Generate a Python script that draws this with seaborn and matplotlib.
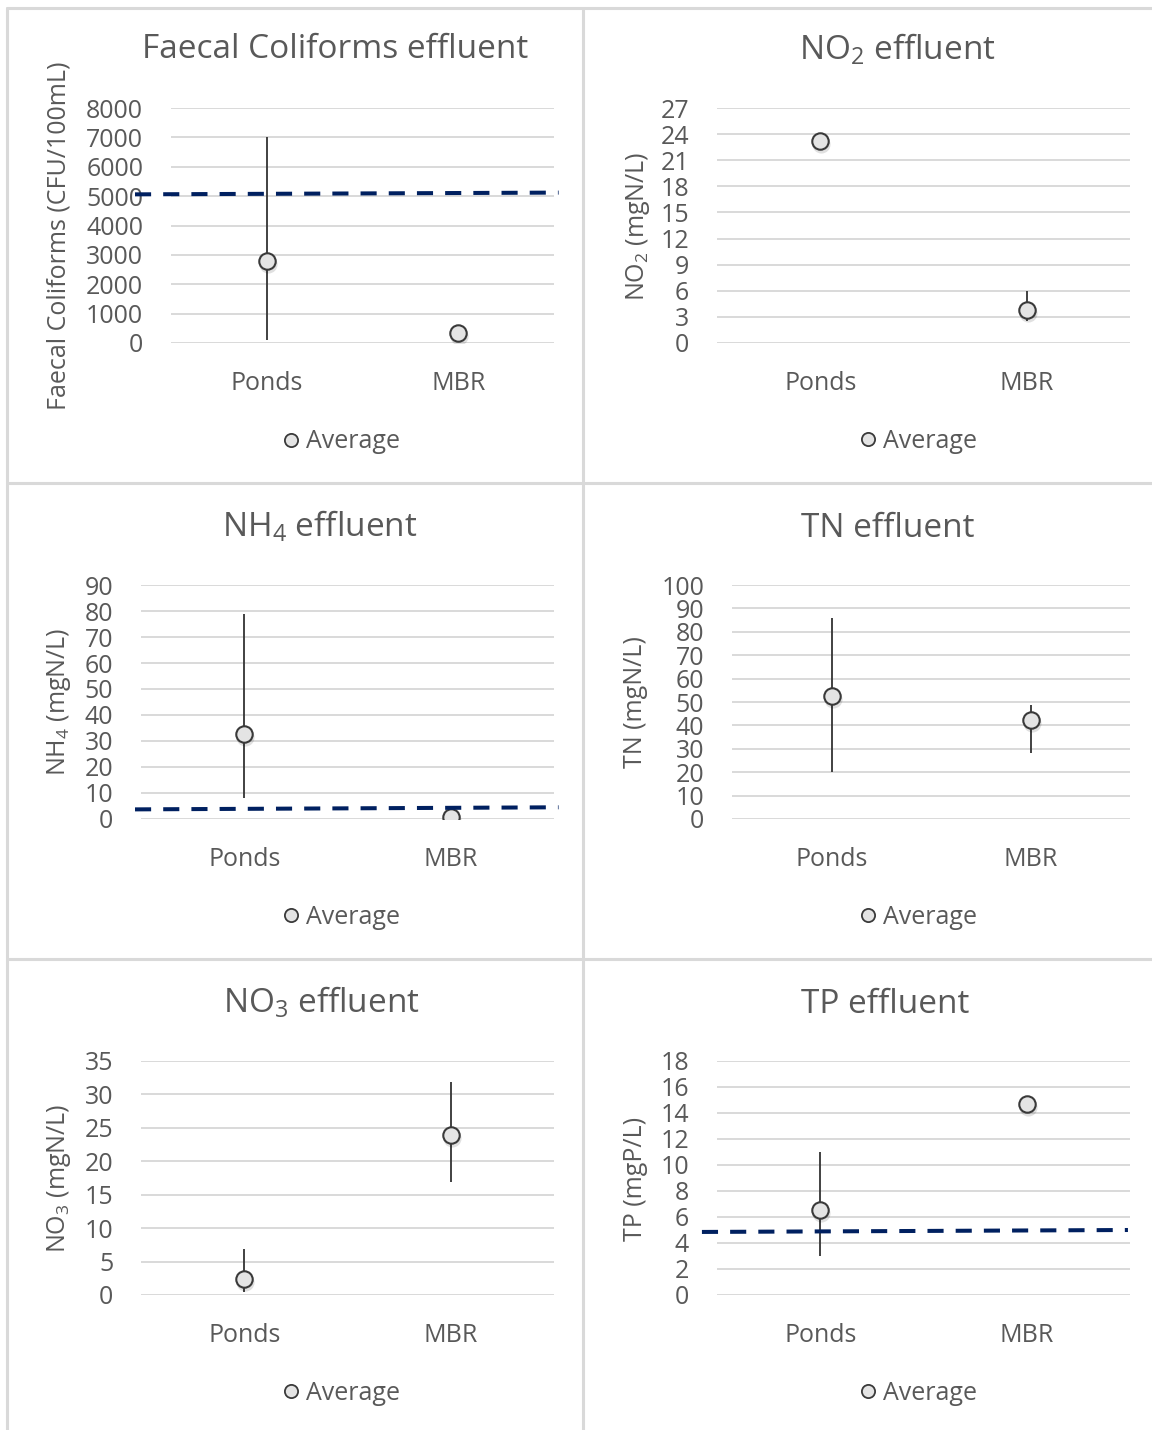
import numpy as np
import pandas as pd
import matplotlib
matplotlib.use("Agg")
import matplotlib.pyplot as plt
import matplotlib.transforms as mtransforms
from matplotlib.lines import Line2D
import seaborn as sns

# ---------------- data ----------------
categories = ["Ponds", "MBR"]

fc_avg = [2800, 330]
fc_low = [100, np.nan]
fc_high = [7000, np.nan]
fc_limit = [5060, 5120]

no2_avg = [23.2, 3.8]
no2_low = [np.nan, 2.5]
no2_high = [np.nan, 6.0]

nh4_avg = [32.8, 0.6]
nh4_low = [7.9, np.nan]
nh4_high = [78.8, np.nan]
nh4_limit = [3.7, 4.5]

tn_avg = [52.5, 42.1]
tn_low = [19.9, 28.2]
tn_high = [85.8, 48.8]

no3_avg = [2.4, 23.9]
no3_low = [0.5, 16.9]
no3_high = [6.95, 31.9]

tp_avg = [6.55, 14.7]
tp_low = [3.0, np.nan]
tp_high = [11.0, np.nan]
tp_limit = [4.85, 5.0]

titles = ["Faecal Coliforms effluent", r"NO$_{2}$ effluent", r"NH$_{4}$ effluent",
          "TN effluent", r"NO$_{3}$ effluent", "TP effluent"]
ylabels = ["Faecal Coliforms (CFU/100mL)", r"NO$_{2}$ (mgN/L)", r"NH$_{4}$ (mgN/L)",
           "TN (mgN/L)", r"NO$_{3}$ (mgN/L)", "TP (mgP/L)"]
y_max = [8000, 27, 90, 100, 35, 18]
y_step = [1000, 3, 10, 10, 5, 2]
legend_label = "Average"

# ---------------- style ----------------
sns.set_theme(style="white")
plt.rcParams["font.family"] = ["Open Sans", "DejaVu Sans"]
plt.rcParams["mathtext.fontset"] = "custom"
plt.rcParams["mathtext.rm"] = "Open Sans"
plt.rcParams["mathtext.it"] = "Open Sans"
plt.rcParams["mathtext.bf"] = "Open Sans"
plt.rcParams["mathtext.default"] = "regular"

TXT = "#595959"
GRID = "#d9d9d9"
LIMIT = "#002060"
MFACE = "#e4e4e4"
MEDGE = "#3a3a3a"
ERR = "#333333"

W, H = 1152, 1430
fig = plt.figure(figsize=(W / 100, H / 100), dpi=100)
fig.patch.set_facecolor("white")


def fx(x):
    return x / W


def fy(y):
    return 1 - y / H


# layout of each panel (pixel coordinates)
panels = [
    dict(avg=fc_avg, low=fc_low, high=fc_high, limit=fc_limit, lim_x=(-0.688, 1.524),
         box=(171, 554, 108, 343), title=(335, 58), ylab=(59, 236), leg=(342, 442)),
    dict(avg=no2_avg, low=no2_low, high=no2_high, limit=None, lim_x=None,
         box=(717, 1130, 108, 343), title=(897, 60), ylab=(638, 226), leg=(919, 441)),
    dict(avg=nh4_avg, low=nh4_low, high=nh4_high, limit=nh4_limit, lim_x=(-0.529, 1.522),
         box=(141, 554, 585, 819), title=(320, 537), ylab=(59, 702), leg=(342, 917)),
    dict(avg=tn_avg, low=tn_low, high=tn_high, limit=None, lim_x=None,
         box=(732, 1130, 585, 819), title=(888, 537), ylab=(635, 702), leg=(919, 917)),
    dict(avg=no3_avg, low=no3_low, high=no3_high, limit=None, lim_x=None,
         box=(141, 554, 1061, 1295), title=(321, 1013), ylab=(59, 1178), leg=(342, 1393)),
    dict(avg=tp_avg, low=tp_low, high=tp_high, limit=tp_limit, lim_x=(-0.573, 1.49),
         box=(717, 1130, 1061, 1295), title=(885, 1013), ylab=(635, 1179), leg=(919, 1393)),
]

for i, p in enumerate(panels):
    x0, x1, yt, yb = p["box"]
    ax = fig.add_axes([fx(x0), fy(yb), (x1 - x0) / W, (yb - yt) / H])
    ax.set_facecolor("white")
    pos = np.arange(len(categories))
    df = pd.DataFrame({"pos": pos, "avg": p["avg"], "low": p["low"], "high": p["high"]})

    # error bars (min-max)
    ax.vlines(df["pos"], df["low"], df["high"], color=ERR, lw=1.3, zorder=3)

    # subtle marker shadow
    shadow = ax.transData + mtransforms.ScaledTranslation(1 / 100, -3 / 100, fig.dpi_scale_trans)
    ax.scatter(df["pos"], df["avg"], s=170, color="#000000", alpha=0.12,
               linewidths=0, transform=shadow, zorder=4)

    sns.scatterplot(data=df, x="pos", y="avg", ax=ax, s=140, color=MFACE,
                    edgecolor=MEDGE, linewidth=1.5, zorder=5, legend=False)

    # limit line
    if p["limit"] is not None:
        ax.plot(list(p["lim_x"]), p["limit"], color=LIMIT, lw=2.9,
                linestyle=(0, (4, 3)), clip_on=False, zorder=6,
                solid_capstyle="butt", dash_capstyle="butt")

    ax.set_xlim(-0.5, 1.5)
    ax.set_ylim(0, y_max[i])
    ax.set_yticks(np.arange(0, y_max[i] + y_step[i] / 2, y_step[i]))
    ax.set_xticks(pos)
    ax.set_xticklabels(categories)
    ax.set_xlabel("")
    ax.set_ylabel("")
    ax.grid(axis="y", color=GRID, lw=1.4, zorder=0)
    ax.grid(axis="x", visible=False)
    ax.set_axisbelow(True)
    for s in ax.spines.values():
        s.set_visible(False)
    ax.tick_params(axis="y", length=0, pad=20, labelsize=18, labelcolor=TXT)
    ax.tick_params(axis="x", length=0, pad=20.5, labelsize=18, labelcolor=TXT)

    # title and axis title
    fig.text(fx(p["title"][0]), fy(p["title"][1]), titles[i], ha="center",
             va="baseline", fontsize=24, color=TXT)
    fig.text(fx(p["ylab"][0]), fy(p["ylab"][1]), ylabels[i], ha="center",
             va="center", rotation=90, fontsize=18, color=TXT)

    # legend
    handle = Line2D([], [], marker="o", linestyle="none", markersize=9.5,
                    markerfacecolor=MFACE, markeredgecolor=MEDGE, markeredgewidth=1.3)
    ax.legend(handles=[handle], labels=[legend_label], loc="center",
              bbox_to_anchor=(fx(p["leg"][0]), fy(p["leg"][1])),
              bbox_transform=fig.transFigure, frameon=False, fontsize=18,
              handlelength=0.6, handletextpad=0.3, borderpad=0, borderaxespad=0,
              labelcolor=TXT)

# chart borders
bw = 2.2
for yy in (8, 483, 958.5):
    fig.add_artist(Line2D([fx(7), fx(W)], [fy(yy), fy(yy)], transform=fig.transFigure,
                          color=GRID, lw=bw))
for xx in (7, 583):
    fig.add_artist(Line2D([fx(xx), fx(xx)], [fy(8), fy(H)], transform=fig.transFigure,
                          color=GRID, lw=bw))

fig.savefig("out.png", dpi=100, facecolor="white")
